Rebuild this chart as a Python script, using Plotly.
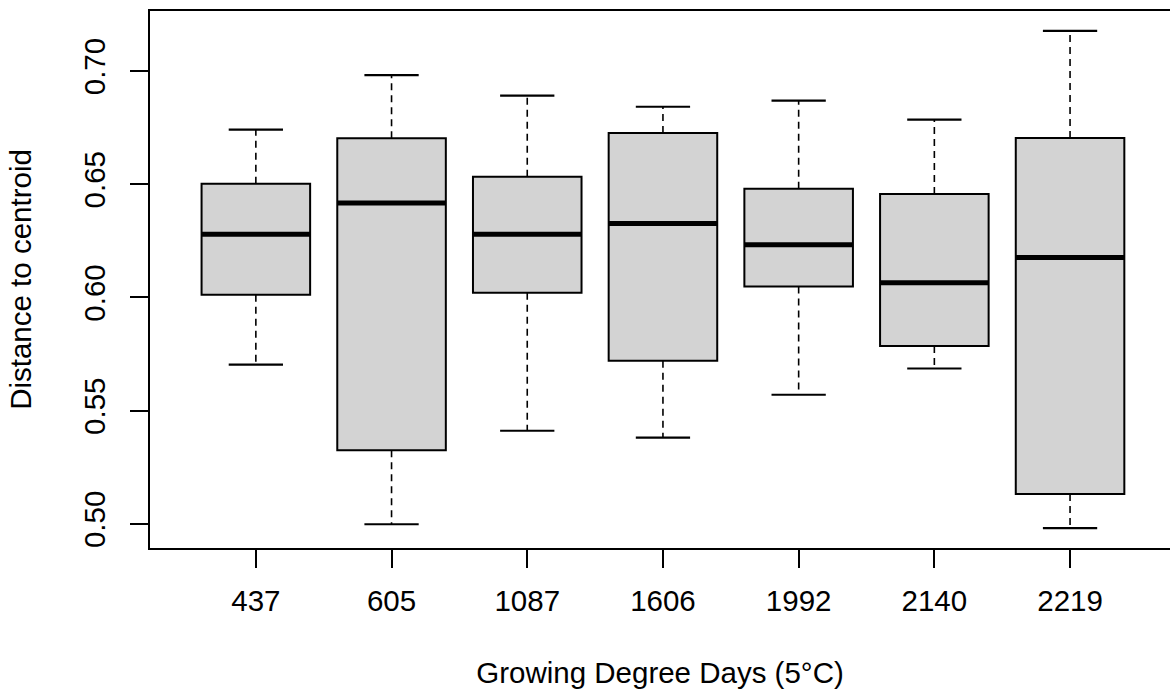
import plotly.graph_objects as go

categories = ["437", "605", "1087", "1606", "1992", "2140", "2219"]
lower = [0.5703, 0.4998, 0.5411, 0.5381, 0.5570, 0.5686, 0.4981]
q1 = [0.6012, 0.5325, 0.6020, 0.5720, 0.6048, 0.5785, 0.5132]
median = [0.6279, 0.6417, 0.6279, 0.6326, 0.6232, 0.6065, 0.6176]
q3 = [0.6502, 0.6703, 0.6533, 0.6726, 0.6480, 0.6457, 0.6704]
upper = [0.6741, 0.6982, 0.6891, 0.6842, 0.6869, 0.6785, 0.7177]
y_ticks = [0.50, 0.55, 0.60, 0.65, 0.70]

positions = list(range(1, len(categories) + 1))
box_w = 0.8
staple_half = box_w / 4
font_family = "Liberation Sans, Arial, sans-serif"
fsize = 29.5

fig = go.Figure()

# dashed whiskers
wx, wy = [], []
for p, lo, a, b, up in zip(positions, lower, q1, q3, upper):
    wx += [p, p, None, p, p, None]
    wy += [b, up, None, a, lo, None]
fig.add_trace(go.Scatter(x=wx, y=wy, mode="lines",
                         line=dict(color="black", width=1.6, dash="7px,5px"),
                         hoverinfo="skip", showlegend=False))

# staples
sx, sy = [], []
for p, lo, up in zip(positions, lower, upper):
    sx += [p - staple_half, p + staple_half, None, p - staple_half, p + staple_half, None]
    sy += [up, up, None, lo, lo, None]
fig.add_trace(go.Scatter(x=sx, y=sy, mode="lines",
                         line=dict(color="black", width=2.2),
                         hoverinfo="skip", showlegend=False))

# boxes
fig.add_trace(go.Box(x=positions, q1=q1, median=median, q3=q3,
                     lowerfence=q1, upperfence=q3, width=box_w,
                     whiskerwidth=0, boxpoints=False,
                     fillcolor="#d3d3d3", line=dict(color="black", width=2),
                     showlegend=False))

# thick medians
mx, my = [], []
for p, m in zip(positions, median):
    mx += [p - box_w / 2, p + box_w / 2, None]
    my += [m, m, None]
fig.add_trace(go.Scatter(x=mx, y=my, mode="lines",
                         line=dict(color="black", width=5),
                         hoverinfo="skip", showlegend=False))

ymin, ymax = min(lower), max(upper)
ext = (ymax - ymin) * 0.04

fig.update_layout(
    width=1170, height=692,
    margin=dict(l=150, r=0, t=11, b=144),
    plot_bgcolor="white", paper_bgcolor="white",
    font=dict(family=font_family, size=fsize, color="black"),
    showlegend=False,
    xaxis=dict(
        range=[0.22, 0.22 + 1020 / 135.7],
        tickmode="array", tickvals=positions, ticktext=categories,
        showline=True, linecolor="black", linewidth=1.6, mirror=True,
        ticks="outside", ticklen=18, tickwidth=1.6, tickcolor="black",
        ticklabelstandoff=8,
        showgrid=False, zeroline=False,
        tickfont=dict(size=fsize),
        title=dict(text="Growing Degree Days (5°C)", font=dict(size=fsize), standoff=46),
    ),
    yaxis=dict(
        range=[ymin - ext, ymax + ext],
        tickmode="array", tickvals=y_ticks, ticktext=[f"{v:.2f}" for v in y_ticks],
        tickangle=-90,
        showline=True, linecolor="black", linewidth=1.6, mirror=False,
        ticks="outside", ticklen=18, tickwidth=1.6, tickcolor="black",
        ticklabelstandoff=13,
        showgrid=False, zeroline=False,
        tickfont=dict(size=fsize),
        title=dict(text="Distance to centroid", font=dict(size=fsize), standoff=38),
    ),
)

fig.write_html("out.html")
